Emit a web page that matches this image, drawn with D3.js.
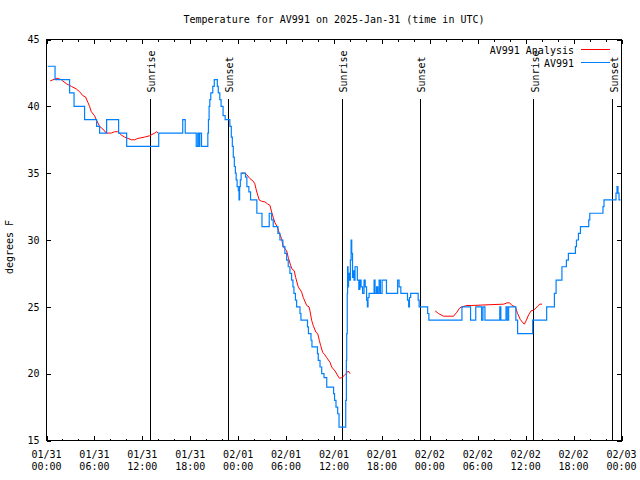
<!DOCTYPE html>
<html><head><meta charset="utf-8">
<script src="https://cdn.jsdelivr.net/npm/d3@7"></script>
<style>
body{margin:0;background:#fff}
svg text{font-family:"DejaVu Sans Mono",monospace;font-size:10px;fill:#000}
</style>
</head><body>
<svg id="c" width="640" height="480"></svg>
<script>
// ---- data ----
const titleText = "Temperature for AV991 on 2025-Jan-31 (time in UTC)";
const yLabel = "degrees F";
const startUTC = "2025-01-31T00:00:00Z";
const yTicks = [15, 20, 25, 30, 35, 40, 45];
const seriesNames = ["AV991 Analysis", "AV991"];

// observed (hours since start, °F)
const obsHours = [0.16,1.07,2.89,3.45,4.77,6.27,6.65,7.53,9.03,10.04,14.05,17.06,17.37,18.75,18.94,19.10,19.19,19.41,
  20.20,20.28,20.36,20.45,20.57,20.82,21.01,21.39,21.51,21.70,21.86,22.11,22.37,22.96,23.14,23.27,23.39,23.52,23.65,
  23.75,23.87,24.02,24.11,24.18,24.27,24.37,24.92,25.09,25.34,25.55,26.34,26.98,27.89,28.19,28.39,28.98,29.23,29.60,
  29.85,30.07,30.27,30.48,30.69,30.86,30.98,31.17,31.32,31.74,31.86,32.68,32.80,33.12,33.24,33.93,34.03,34.25,34.46,
  34.75,35.09,35.95,36.07,36.25,36.46,36.63,37.47,37.55,37.59,37.66,37.70,37.76,37.82,37.92,38.05,38.14,38.22,38.32,
  38.41,38.51,38.63,38.92,39.11,39.24,39.39,39.58,39.76,39.91,40.08,40.18,40.26,40.39,41.02,41.14,41.33,41.48,41.65,
  41.81,42.02,42.57,43.97,44.15,44.37,45.20,45.35,45.45,45.60,46.54,46.66,47.73,47.88,52.02,53.10,53.75,54.48,54.65,
  54.90,56.76,56.89,57.54,57.70,57.87,58.77,58.99,60.88,62.63,63.60,63.81,64.54,65.10,65.35,66.23,66.36,66.61,66.86,
  67.90,68.03,69.68,69.81,71.31,71.44,71.56,71.69,71.88];
const obsTemps = [43,42,41,40,39,38.5,38,39,38,37,38,39,38,37,38,37,38,37,
  38,39,40,40.5,41,41.5,42,41.5,41,40.5,40,39.3,39,38.5,37.7,37,36.2,35.5,35,
  34.5,34,33.7,33,34,34.5,35,34.7,34,33.6,33,32,31,32,31.5,31,30.5,30,29.5,
  29,28.5,28,27.5,27,26.5,26,25.5,25,24.5,24,23.5,23,22.5,22,21.5,21,20.5,20,
  19.7,19,18.5,18,17.5,17,16,18,21,23,26,28,26.5,27.5,27,28.5,30,29,27.2,
  27.7,27,28,27,26.3,27,26.5,26,27,26.5,25.5,25,25.7,26,27,26,26.5,26,27,
  26,27,26,27,26.5,26,25.5,25,25.7,26,25.5,25,24.5,24,25,24,25,24,25,
  24,25,24,25,24,25,24,23,24,25,26,27,28,28.5,29,29.5,30,30.5,31,
  31.5,32,32.5,33,33.5,34,33.5,33,33];

// analysis (null = gap)
const anaHours = [0.46,1.29,1.84,2.04,2.47,3.10,3.73,4.14,4.55,4.89,5.18,5.39,5.61,6.02,6.23,6.65,7.06,7.49,8.12,8.53,
  8.94,9.37,9.78,10.62,11.04,11.45,12.29,12.92,13.55,13.76,13.96, 19,
  24.40,24.84,25.05,25.46,25.88,26.09,26.22,26.38,26.63,26.93,27.35,27.68,27.97,28.19,28.39,28.60,28.89,29.10,29.44,
  29.64,30.07,30.27,30.57,30.77,31.02,31.20,31.52,31.95,32.15,32.58,32.87,32.99,33.20,33.40,33.74,33.96,34.16,34.33,
  34.58,34.87,35.09,35.50,35.71,36.13,36.42,36.67,36.97,37.26,37.51,37.79,38.01, 43,
  48.67,49.08,49.71,50.97,51.39,51.72,52.02,52.65,53.27,55.16,57.24,57.67,57.99,58.29,58.71,58.99,59.33,59.67,59.83,
  60.09,60.37,60.68,61.00,61.43,61.75,62.05];
const anaTemps = [41.9,42.1,42.0,41.9,41.7,41.5,41.3,41.1,40.8,40.7,40.3,40.0,39.6,39.3,39.0,38.5,38.3,38.0,38.0,38.1,
  38.1,37.85,37.7,37.5,37.5,37.6,37.7,37.8,38.0,38.1,38.0, null,
  35.0,35.0,34.9,34.6,34.4,34.2,33.85,33.5,33.0,32.9,32.85,32.7,32.6,32.1,31.7,31.3,31.0,30.6,30.1,
  29.5,29.2,28.7,28.1,27.8,27.7,27.2,26.5,26.1,25.7,25.1,25.0,24.7,24.0,23.6,23.1,23.0,22.5,22.1,
  21.6,21.4,21.2,20.85,20.5,20.2,19.9,19.66,19.7,19.85,20.0,20.2,20.0, null,
  24.7,24.5,24.3,24.3,24.6,24.9,25.0,25.1,25.1,25.15,25.2,25.3,25.3,25.1,25.0,24.5,24.05,23.8,23.7,
  24.0,24.4,24.7,24.75,25.0,25.2,25.2];

// sun events (hours since start)
const eventLabels = ["Sunrise","Sunset","Sunrise","Sunset","Sunrise","Sunset"];
const eventHours = [12.96, 22.74, 37.04, 46.83, 61.0, 70.91];

// ---- drawing ----
const svg = d3.select("#c");
const base = Date.parse(startUTC);
const t = h => new Date(base + h * 3600000);
const L = 46.5, R = 621.5, T = 39.5, B = 440.5;
const x = d3.scaleUtc().domain([t(0), t(72)]).range([L, R]);
const y = d3.scaleLinear().domain([15, 45]).range([B, T]);
const RED = "#ff0000", BLUE = "#0080ff";

svg.append("text").attr("x", 334).attr("y", 23).attr("text-anchor", "middle").text(titleText);
svg.append("text").attr("transform", "translate(13,247) rotate(-90)").attr("text-anchor", "middle").text(yLabel);

function styleAxis(g){
  g.select(".domain").remove();
  g.selectAll("line").attr("stroke", "#000").attr("shape-rendering", "crispEdges");
  g.attr("font-family", null).attr("font-size", null);
}
const majorTicks = d3.utcHour.every(6);
const minorTicks = d3.utcHour.every(2);
svg.append("g").attr("transform", `translate(0,${B})`)
  .call(d3.axisBottom(x).ticks(minorTicks).tickSizeInner(-2).tickSizeOuter(0).tickFormat("")).call(styleAxis);
svg.append("g").attr("transform", `translate(0,${B})`)
  .call(d3.axisBottom(x).ticks(majorTicks).tickSizeInner(-4.5).tickSizeOuter(0).tickFormat("")).call(styleAxis);
svg.append("g").attr("transform", `translate(0,${T})`)
  .call(d3.axisTop(x).ticks(minorTicks).tickSizeInner(-2).tickSizeOuter(0).tickFormat("")).call(styleAxis);
svg.append("g").attr("transform", `translate(0,${T})`)
  .call(d3.axisTop(x).ticks(majorTicks).tickSizeInner(-4.5).tickSizeOuter(0).tickFormat("")).call(styleAxis);
svg.append("g").attr("transform", `translate(${L},0)`)
  .call(d3.axisLeft(y).tickValues(yTicks).tickSizeInner(-4.5).tickSizeOuter(0).tickPadding(7).tickFormat(d3.format("d")))
  .call(styleAxis);
svg.append("g").attr("transform", `translate(${R},0)`)
  .call(d3.axisRight(y).tickValues(yTicks).tickSizeInner(-4.5).tickSizeOuter(0).tickFormat("")).call(styleAxis);

// two-line time labels
const fmtD = d3.utcFormat("%m/%d"), fmtT = d3.utcFormat("%H:%M");
const xl = svg.append("g");
x.ticks(majorTicks).forEach(d => {
  const tx = xl.append("text").attr("x", x(d)).attr("text-anchor", "middle");
  tx.append("tspan").attr("x", x(d)).attr("y", 458).text(fmtD(d));
  tx.append("tspan").attr("x", x(d)).attr("y", 470).text(fmtT(d));
});

// frame
svg.append("rect").attr("x", L).attr("y", T).attr("width", R - L).attr("height", B - T)
  .attr("fill", "none").attr("stroke", "#000").attr("shape-rendering", "crispEdges");

// event lines
const ev = svg.append("g");
eventHours.forEach((h, i) => {
  const ex = x(t(h));
  ev.append("line").attr("x1", ex).attr("x2", ex).attr("y1", 99).attr("y2", B)
    .attr("stroke", "#000").attr("shape-rendering", "crispEdges");
  ev.append("text").attr("transform", `translate(${ex + 5},92.5) rotate(-90)`).text(eventLabels[i]);
});

// series
const anaData = anaHours.map((h, i) => ({d: t(h), v: anaTemps[i]}));
const obsData = obsHours.map((h, i) => ({d: t(h), v: obsTemps[i]}));
svg.append("path").datum(anaData)
  .attr("d", d3.line().defined(p => p.v != null).x(p => x(p.d)).y(p => y(p.v)))
  .attr("fill", "none").attr("stroke", RED).attr("stroke-width", 1);
svg.append("path").datum(obsData)
  .attr("d", d3.line().curve(d3.curveStepAfter).x(p => x(p.d)).y(p => y(p.v)))
  .attr("fill", "none").attr("stroke", BLUE).attr("stroke-width", 1.2);

// legend
const lg = svg.append("g");
[[RED, 53.5, 49], [BLUE, 66.5, 62]].forEach(([c, ty, ly], i) => {
  lg.append("text").attr("x", 574).attr("y", ty).attr("text-anchor", "end").text(seriesNames[i]);
  lg.append("line").attr("x1", 581).attr("x2", 610).attr("y1", ly + 0.5).attr("y2", ly + 0.5)
    .attr("stroke", c).attr("shape-rendering", "crispEdges");
});
</script>
</body></html>
